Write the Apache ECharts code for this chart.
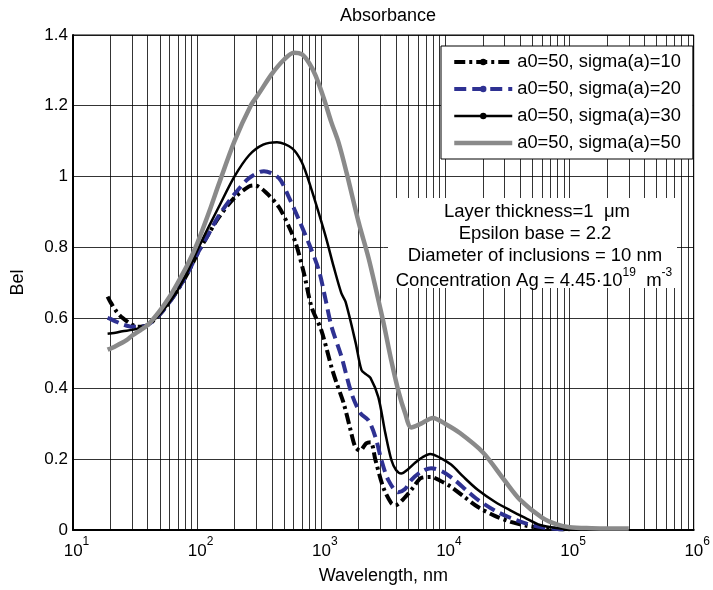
<!DOCTYPE html>
<html>
<head>
<meta charset="utf-8">
<script src="https://cdn.jsdelivr.net/npm/echarts@6/dist/echarts.min.js"></script>
<style>
html,body{margin:0;padding:0;background:#fff;}
#chart{width:713px;height:590px;}
</style>
</head>
<body>
<div id="chart"></div>
<script>
// ---- Data ----
const seriesNames = ['a0=50, sigma(a)=10', 'a0=50, sigma(a)=20', 'a0=50, sigma(a)=30', 'a0=50, sigma(a)=50'];

const wl10 = [19, 20, 22.5, 25, 28.6, 33, 40, 50, 60, 70, 85, 100, 125, 150, 200, 262, 290, 355, 456, 550, 624, 724, 836, 1000, 1210, 1330, 1510, 1720, 1880, 2050, 2300, 2500, 2730, 3160, 3660, 3950, 4740, 5500, 6370, 7670, 9000, 11100, 14000, 18300, 25000, 33600, 45000, 60000, 80000, 100000];
const bel10 = [0.66, 0.645, 0.617, 0.60, 0.585, 0.575, 0.58, 0.61, 0.645, 0.68, 0.73, 0.78, 0.84, 0.885, 0.94, 0.972, 0.975, 0.956, 0.913, 0.857, 0.81, 0.727, 0.63, 0.565, 0.46, 0.415, 0.36, 0.283, 0.235, 0.225, 0.245, 0.248, 0.198, 0.12, 0.076, 0.07, 0.093, 0.12, 0.147, 0.15, 0.14, 0.122, 0.095, 0.065, 0.04, 0.023, 0.012, 0.006, 0.003, 0.002];

const wl20 = [19, 20, 22, 25, 30, 35, 40, 50, 60, 70, 85, 100, 125, 150, 200, 262, 345, 456, 550, 661, 795, 955, 1085, 1210, 1455, 1750, 2070, 2400, 2730, 3050, 3470, 4170, 4700, 5300, 6400, 7670, 9500, 11900, 15000, 18300, 25000, 33600, 45000, 60000, 80000, 100000];
const bel20 = [0.60, 0.597, 0.59, 0.582, 0.575, 0.575, 0.58, 0.61, 0.645, 0.68, 0.73, 0.78, 0.84, 0.89, 0.95, 0.995, 1.015, 0.995, 0.94, 0.877, 0.81, 0.735, 0.65, 0.575, 0.49, 0.387, 0.33, 0.31, 0.263, 0.198, 0.141, 0.107, 0.115, 0.141, 0.165, 0.175, 0.165, 0.141, 0.11, 0.085, 0.055, 0.034, 0.018, 0.008, 0.003, 0.002];

const wl30 = [19, 20, 22, 25, 30, 35, 40, 50, 60, 70, 85, 100, 125, 150, 200, 262, 340, 440, 580, 697, 822, 955, 1105, 1260, 1450, 1570, 1890, 2110, 2300, 2490, 2880, 3280, 3670, 4000, 4410, 5000, 5700, 6500, 7530, 9000, 11100, 14000, 18300, 25000, 33600, 43500, 58000, 85000, 100000];
const bel30 = [0.555, 0.556, 0.558, 0.562, 0.566, 0.572, 0.58, 0.61, 0.645, 0.68, 0.735, 0.79, 0.86, 0.915, 1.0, 1.06, 1.09, 1.097, 1.08, 1.04, 0.97, 0.896, 0.82, 0.744, 0.67, 0.645, 0.53, 0.452, 0.44, 0.43, 0.376, 0.274, 0.198, 0.17, 0.16, 0.172, 0.19, 0.205, 0.215, 0.205, 0.185, 0.15, 0.113, 0.08, 0.055, 0.035, 0.014, 0.004, 0.002];

const wl50 = [19, 22, 27, 30, 35, 40, 50, 60, 70, 85, 100, 125, 150, 200, 270, 315, 400, 500, 600, 700, 800, 900, 1050, 1200, 1380, 1600, 2000, 2400, 2800, 3200, 3660, 4200, 4740, 5300, 6300, 7940, 10000, 13000, 20000, 30000, 40000, 60000, 80000, 100000, 150000, 200000, 300000];
const bel50 = [0.51, 0.52, 0.537, 0.55, 0.565, 0.58, 0.62, 0.66, 0.70, 0.755, 0.81, 0.90, 0.98, 1.10, 1.20, 1.235, 1.29, 1.33, 1.35, 1.345, 1.32, 1.285, 1.22, 1.155, 1.095, 1.01, 0.87, 0.77, 0.67, 0.58, 0.48, 0.39, 0.33, 0.29, 0.30, 0.317, 0.30, 0.275, 0.22, 0.14, 0.085, 0.035, 0.015, 0.008, 0.005, 0.004, 0.004];

const yTicks = [0, 0.2, 0.4, 0.6, 0.8, 1, 1.2, 1.4];
const xDecades = [10, 100, 1000, 10000, 100000, 1000000];

const titleText = 'Absorbance';
const xName = 'Wavelength, nm';
const yName = 'Bel';
const noteLines = ['Layer thickness=1  \u03bcm', 'Epsilon base = 2.2', 'Diameter of inclusions = 10 nm'];

// ---- Build ----
const FONT = "'Liberation Sans', Arial, Helvetica, sans-serif";
function zip(a, b) { return a.map((x, i) => [x, b[i]]); }

// minor log grid lines (2..9 within each decade)
const minorLines = [];
for (let d = 0; d < xDecades.length - 1; d++) {
  for (let k = 2; k <= 9; k++) minorLines.push({ xAxis: xDecades[d] * k });
}

const chart = echarts.init(document.getElementById('chart'), null, { renderer: 'canvas' });

const noteFont = '18.5px ' + FONT;

const option = {
  animation: false,
  backgroundColor: '#fff',
  textStyle: { fontFamily: FONT, color: '#000' },
  title: {
    text: titleText, left: 383, textAlign: 'center', top: 2,
    textStyle: { fontFamily: FONT, fontSize: 18, fontWeight: 'normal', color: '#000' }
  },
  grid: { left: 73, right: 16, top: 35, bottom: 60, show: true, borderColor: '#000', borderWidth: 1, backgroundColor: 'transparent' },
  legend: {
    data: [
      { name: seriesNames[0] },
      { name: seriesNames[1] },
      { name: seriesNames[2] },
      { name: seriesNames[3], itemStyle: { opacity: 0 } }
    ],
    orient: 'vertical', left: 441, top: 46,
    padding: [6, 12, 6, 11], itemGap: 7,
    itemWidth: 58, itemHeight: 8,
    lineStyle: { width: 'inherit' },
    backgroundColor: '#fff', borderColor: '#000', borderWidth: 1, borderRadius: 0,
    textStyle: { fontFamily: FONT, fontSize: 18.3, color: '#000', lineHeight: 20, padding: [0, 0, 0, 0] },
    selectedMode: false, z: 20
  },
  xAxis: {
    type: 'log', logBase: 10, min: 10, max: 1000000,
    name: xName, nameLocation: 'middle', nameGap: 37,
    nameTextStyle: { fontFamily: FONT, fontSize: 18, color: '#000' },
    axisLine: { show: true, lineStyle: { color: '#000', width: 2 } },
    axisTick: { show: false },
    splitLine: { show: true, lineStyle: { color: '#000', width: 0.8 } },
    axisLabel: {
      show: true, margin: 6, showMinLabel: true, showMaxLabel: true,
      formatter: function (v) {
        const e = Math.round(Math.log10(v));
        return '{b|10}{s|' + e + '}';
      },
      rich: {
        b: { fontFamily: FONT, fontSize: 17, color: '#000', verticalAlign: 'bottom', lineHeight: 24, padding: [0, 0, 0, 7] },
        s: { fontFamily: FONT, fontSize: 12, color: '#000', verticalAlign: 'top', lineHeight: 24 }
      }
    }
  },
  yAxis: {
    type: 'value', min: 0, max: 1.4, interval: 0.2,
    name: yName, nameLocation: 'middle', nameGap: 46, nameRotate: 90,
    nameTextStyle: { fontFamily: FONT, fontSize: 18, color: '#000' },
    axisLine: { show: true, lineStyle: { color: '#000', width: 2 } },
    axisTick: { show: false },
    splitLine: { show: true, lineStyle: { color: '#000', width: 0.8 } },
    axisLabel: {
      margin: 5, fontFamily: FONT, fontSize: 17, color: '#000',
      formatter: function (v) {
        for (const t of yTicks) if (Math.abs(t - v) < 1e-9) return String(t);
        return '';
      }
    }
  },
  series: [
    {
      name: 'minor-grid', type: 'line', data: [], silent: true, z: 1,
      markLine: {
        silent: true, symbol: ['none', 'none'], z: 1, animation: false,
        label: { show: false },
        lineStyle: { color: '#000', width: 0.8, type: 'solid' },
        emphasis: { disabled: true },
        data: minorLines
      }
    },
    {
      name: seriesNames[0], type: 'line', data: zip(wl10, bel10), z: 3,
      smooth: 0.3, symbol: 'circle', symbolSize: 6, showSymbol: false,
      itemStyle: { color: '#000' },
      lineStyle: { color: '#000', width: 4, type: [11, 4, 3, 4], cap: 'butt' }
    },
    {
      name: seriesNames[1], type: 'line', data: zip(wl20, bel20), z: 4,
      smooth: 0.3, symbol: 'circle', symbolSize: 6, showSymbol: false,
      itemStyle: { color: '#2e3192' },
      lineStyle: { color: '#2e3192', width: 4, type: [12, 6], cap: 'butt' }
    },
    {
      name: seriesNames[2], type: 'line', data: zip(wl30, bel30), z: 5,
      smooth: 0.3, symbol: 'circle', symbolSize: 6, showSymbol: false,
      itemStyle: { color: '#000' },
      lineStyle: { color: '#000', width: 2.5, type: 'solid' }
    },
    {
      name: seriesNames[3], type: 'line', data: zip(wl50, bel50), z: 6,
      smooth: 0.3, symbol: 'none', showSymbol: false,
      itemStyle: { color: '#8a8a8a' },
      lineStyle: { color: '#8a8a8a', width: 4.5, type: 'solid' }
    }
  ],
  graphic: [
    { type: 'rect', z: 100, shape: { x: 388, y: 198, width: 289, height: 90 }, style: { fill: '#fff', stroke: null } },
    { type: 'text', z: 101, x: 537, y: 212, style: { text: noteLines[0], font: noteFont, fill: '#000', align: 'center', verticalAlign: 'middle' } },
    { type: 'text', z: 101, x: 535, y: 234, style: { text: noteLines[1], font: noteFont, fill: '#000', align: 'center', verticalAlign: 'middle' } },
    { type: 'text', z: 101, x: 535, y: 256, style: { text: noteLines[2], font: noteFont, fill: '#000', align: 'center', verticalAlign: 'middle' } },
    {
      type: 'text', z: 101, x: 534, y: 267,
      style: {
        text: '{n|Concentration Ag = 4.45\u00b710}{s|19}{n|  m}{s|-3}',
        align: 'center', verticalAlign: 'top',
        rich: {
          n: { fontFamily: FONT, fontSize: 18.5, fill: '#000', color: '#000', verticalAlign: 'bottom', lineHeight: 23 },
          s: { fontFamily: FONT, fontSize: 12, fill: '#000', color: '#000', verticalAlign: 'top', lineHeight: 23 }
        }
      }
    }
  ]
};
chart.setOption(option);
</script>
</body>
</html>
